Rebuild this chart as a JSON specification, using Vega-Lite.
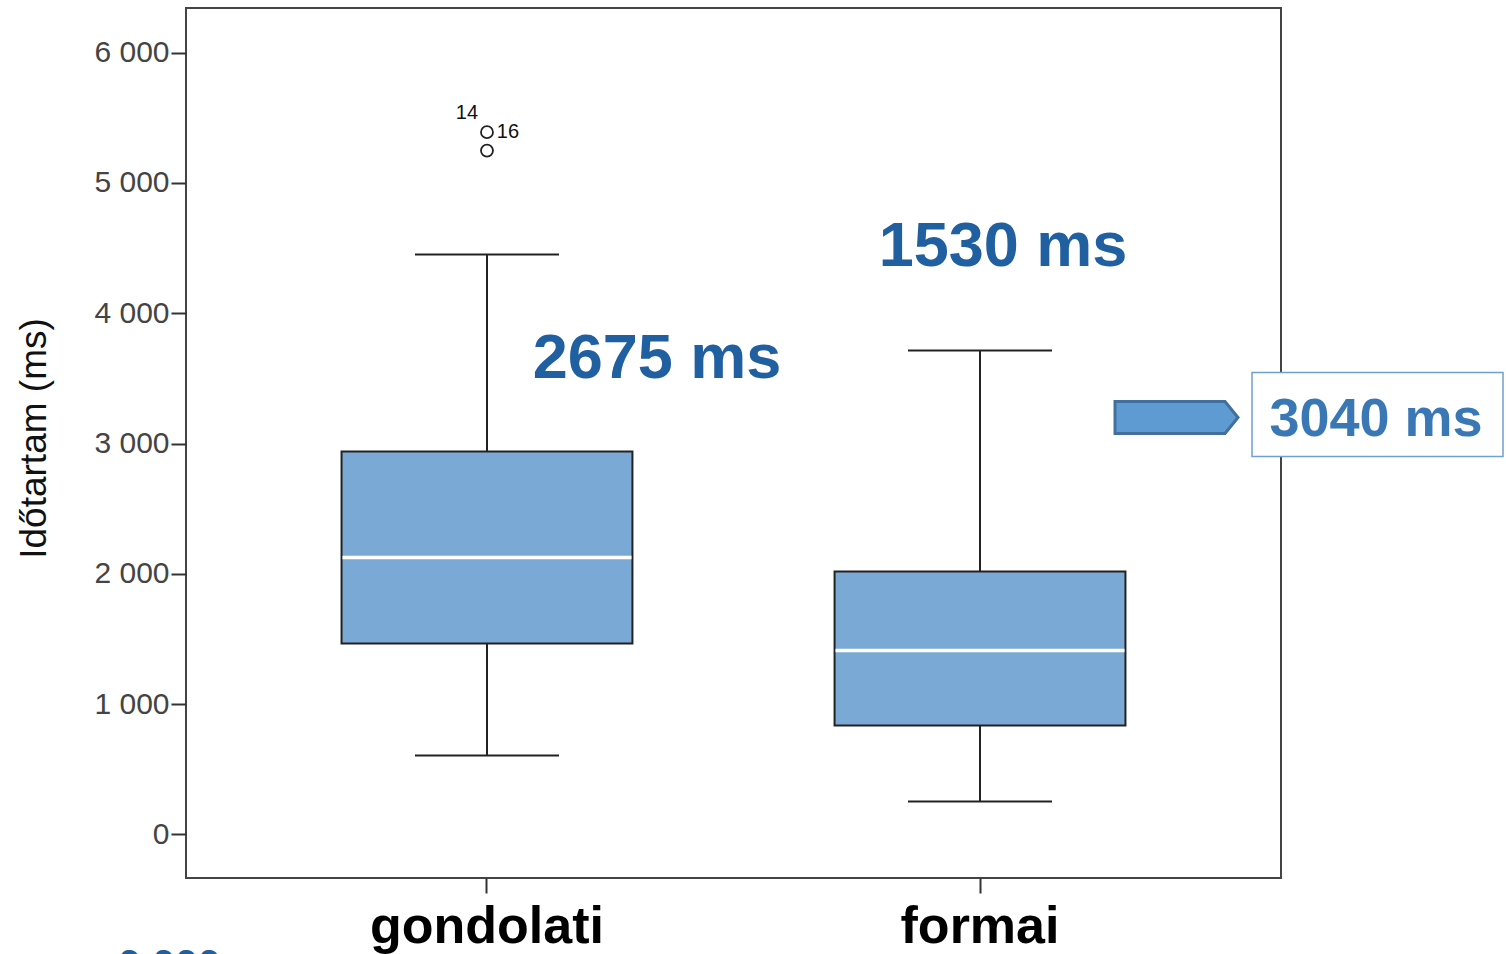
{
  "$schema": "https://vega.github.io/schema/vega-lite/v6.json",
  "width": 1095,
  "height": 870,
  "autosize": {"type": "none"},
  "padding": {"left": 186, "top": 8, "right": 225, "bottom": 76},
  "background": "white",
  "config": {
    "view": {"stroke": "#444444", "strokeWidth": 2},
    "font": "Liberation Sans"
  },
  "datasets": {
    "boxes": [
      {"cat": "gondolati", "lo": 606, "q1": 1466, "med": 2125, "q3": 2939, "hi": 4450},
      {"cat": "formai", "lo": 253, "q1": 836, "med": 1412, "q3": 2018, "hi": 3714}
    ],
    "outliers": [
      {"cat": "gondolati", "id": "14", "value": 5389},
      {"cat": "gondolati", "id": "16", "value": 5248}
    ],
    "notes": [
      {"cat": "gondolati", "label": "2675 ms", "value": 3499},
      {"cat": "formai", "label": "1530 ms", "value": 4359}
    ],
    "callout": [
      {"cat": "formai", "label": "3040 ms", "value": 3061, "box": 3223, "arrow": 3200}
    ],
    "bottom": [
      {"cat": "gondolati", "sym": "p =", "num": "0.000", "value": -1100}
    ]
  },
  "encoding": {
    "x": {
      "field": "cat",
      "type": "nominal",
      "sort": null,
      "scale": {"type": "band", "domain": ["gondolati", "formai"], "paddingInner": 0.41, "paddingOuter": 0.3155},
      "axis": {
        "title": null,
        "domain": false,
        "ticks": true,
        "tickSize": 15,
        "tickWidth": 2,
        "tickColor": "#333333",
        "labelFont": "Liberation Sans",
        "labelFontWeight": "bold",
        "labelFontSize": 52,
        "labelColor": "#000000",
        "labelAngle": 0,
        "labelLimit": 0,
        "labelBaseline": "alphabetic",
        "labelPadding": 49
      }
    }
  },
  "layer": [
    {
      "data": {"name": "boxes"},
      "mark": {"type": "rule", "stroke": "#222222", "strokeWidth": 2},
      "encoding": {
        "y": {
          "field": "lo",
          "type": "quantitative",
          "scale": {"domain": [-334, 6342], "nice": false, "zero": false},
          "axis": {
            "values": [0, 1000, 2000, 3000, 4000, 5000, 6000],
            "labelExpr": "replace(format(datum.value, ','), ',', ' ')",
            "grid": false,
            "domain": false,
            "tickSize": 15,
            "tickWidth": 2,
            "tickColor": "#333333",
            "labelFont": "Liberation Sans",
            "labelFontSize": 30,
            "labelColor": "#444444",
            "labelPadding": 2,
            "labelLimit": 0,
            "title": "Időtartam (ms)",
            "titleFont": "Liberation Sans",
            "titleFontSize": 37,
            "titleFontWeight": "normal",
            "titleColor": "#111111",
            "titleAngle": 270,
            "titleAlign": "center",
            "titleBaseline": "alphabetic",
            "titleX": -141,
            "titleY": 430
          }
        },
        "y2": {"field": "q1"}
      }
    },
    {
      "data": {"name": "boxes"},
      "mark": {"type": "rule", "stroke": "#222222", "strokeWidth": 2},
      "encoding": {
        "y": {"field": "q3", "type": "quantitative"},
        "y2": {"field": "hi"}
      }
    },
    {
      "data": {"name": "boxes"},
      "mark": {"type": "tick", "color": "#222222", "size": 144, "thickness": 2, "opacity": 1, "orient": "horizontal"},
      "encoding": {"y": {"field": "lo", "type": "quantitative"}}
    },
    {
      "data": {"name": "boxes"},
      "mark": {"type": "tick", "color": "#222222", "size": 144, "thickness": 2, "opacity": 1, "orient": "horizontal"},
      "encoding": {"y": {"field": "hi", "type": "quantitative"}}
    },
    {
      "data": {"name": "boxes"},
      "mark": {"type": "bar", "fill": "#7BA9D5", "stroke": "#222222", "strokeWidth": 2, "opacity": 1},
      "encoding": {
        "y": {"field": "q1", "type": "quantitative"},
        "y2": {"field": "q3"}
      }
    },
    {
      "data": {"name": "boxes"},
      "mark": {"type": "tick", "color": "#FFFFFF", "size": 289, "thickness": 3.5, "opacity": 1, "orient": "horizontal"},
      "encoding": {"y": {"field": "med", "type": "quantitative"}}
    },
    {
      "data": {"name": "outliers"},
      "mark": {"type": "point", "shape": "circle", "size": 144, "filled": false, "stroke": "#222222", "strokeWidth": 1.8, "opacity": 1},
      "encoding": {"y": {"field": "value", "type": "quantitative"}}
    },
    {
      "data": {"name": "outliers"},
      "transform": [{"filter": "datum.id === '14'"}],
      "mark": {"type": "text", "fontSize": 20, "color": "#111111", "align": "center", "baseline": "alphabetic", "dx": -20, "dy": -13},
      "encoding": {"y": {"field": "value", "type": "quantitative"}, "text": {"field": "id"}}
    },
    {
      "data": {"name": "outliers"},
      "transform": [{"filter": "datum.id === '14'"}],
      "mark": {"type": "text", "fontSize": 20, "color": "#111111", "align": "center", "baseline": "alphabetic", "dx": 21, "dy": 6},
      "encoding": {"y": {"field": "value", "type": "quantitative"}, "text": {"value": "16"}}
    },
    {
      "data": {"name": "notes"},
      "transform": [{"filter": "datum.cat === 'gondolati'"}],
      "mark": {"type": "text", "fontSize": 63, "fontWeight": "bold", "color": "#2060A0", "align": "center", "baseline": "alphabetic", "dx": 170},
      "encoding": {"y": {"field": "value", "type": "quantitative"}, "text": {"field": "label"}}
    },
    {
      "data": {"name": "notes"},
      "transform": [{"filter": "datum.cat === 'formai'"}],
      "mark": {"type": "text", "fontSize": 63, "fontWeight": "bold", "color": "#2060A0", "align": "center", "baseline": "alphabetic", "dx": 23},
      "encoding": {"y": {"field": "value", "type": "quantitative"}, "text": {"field": "label"}}
    },
    {
      "data": {"name": "callout"},
      "mark": {"type": "point", "shape": "M-1.23,-0.32L0.97,-0.32L1.23,0L0.97,0.32L-1.23,0.32Z", "size": 10000, "filled": true, "fill": "#5F9BD3", "stroke": "#41709C", "strokeWidth": 3, "opacity": 1, "xOffset": 196.5},
      "encoding": {"y": {"field": "arrow", "type": "quantitative"}}
    },
    {
      "data": {"name": "callout"},
      "mark": {"type": "point", "shape": "M-2.51,-0.84H2.51V0.84H-2.51Z", "size": 10000, "filled": true, "fill": "#FFFFFF", "stroke": "#6FA0D2", "strokeWidth": 1.5, "opacity": 1, "xOffset": 397.5},
      "encoding": {"y": {"field": "box", "type": "quantitative"}}
    },
    {
      "data": {"name": "callout"},
      "mark": {"type": "text", "fontSize": 54, "fontWeight": "bold", "color": "#3A78B5", "align": "center", "baseline": "alphabetic", "dx": 396},
      "encoding": {"y": {"field": "value", "type": "quantitative"}, "text": {"field": "label"}}
    },
    {
      "data": {"name": "bottom"},
      "mark": {"type": "text", "fontSize": 41, "fontWeight": "bold", "color": "#2060A0", "align": "left", "baseline": "alphabetic", "dx": -482},
      "encoding": {"y": {"field": "value", "type": "quantitative"}, "text": {"field": "sym"}}
    },
    {
      "data": {"name": "bottom"},
      "mark": {"type": "text", "fontSize": 41, "fontWeight": "bold", "color": "#2060A0", "align": "left", "baseline": "alphabetic", "dx": -369},
      "encoding": {"y": {"field": "value", "type": "quantitative"}, "text": {"field": "num"}}
    }
  ]
}
